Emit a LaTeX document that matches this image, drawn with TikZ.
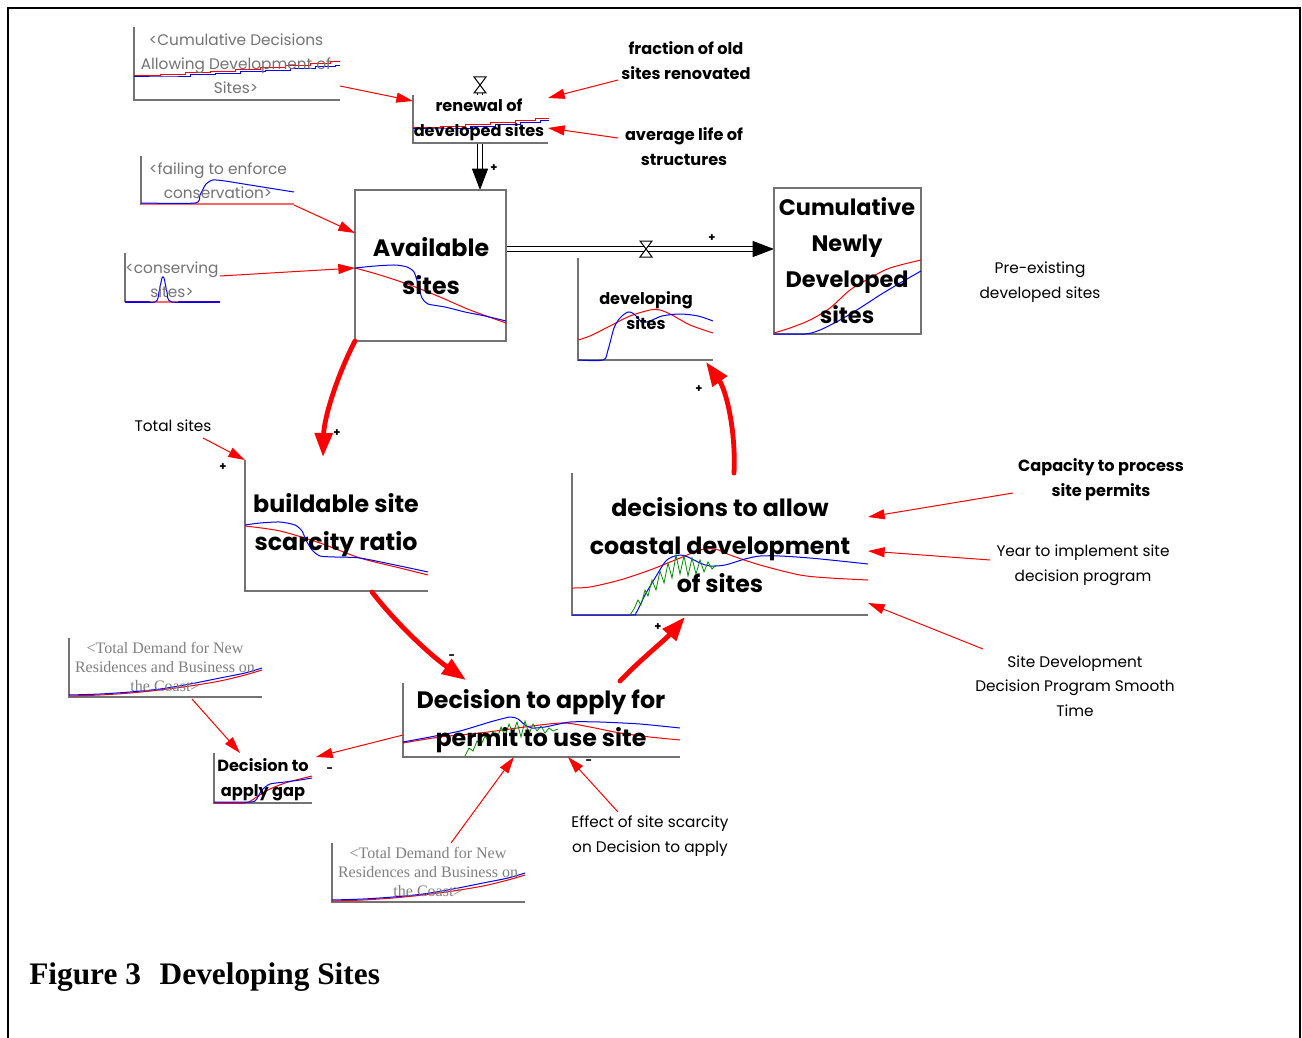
\documentclass[tikz,border=0pt]{standalone}
\usepackage{fontspec}
\setmainfont{Poppins}
\newfontfamily\serifcap{Liberation Serif}
\usetikzlibrary{arrows.meta}

\tikzset{
  axisline/.style={draw=black!55, line width=0.9pt},
  stockbox/.style={draw=black!55, line width=1pt},
  link/.style={draw=red, line width=0.75pt, -{Triangle[length=12.5pt,width=7.5pt]}},
  loop/.style={draw=red, line width=3.6pt, -{Triangle[length=18pt,width=13pt]}},
  pipe/.style={draw=black, line width=0.75pt, double=white, double distance=3pt, -{Triangle[length=16pt,width=12pt]}},
  redc/.style={red, line width=0.75pt},
  bluc/.style={blue, line width=0.75pt},
  grnc/.style={green!55!black, line width=0.6pt},
  bigvar/.style={font=\fontsize{17.8}{28.5}\selectfont\bfseries, align=center, inner sep=0pt},
  midvar/.style={font=\fontsize{12.1}{18.75}\selectfont\bfseries, align=center, inner sep=0pt},
  plainvar/.style={font=\fontsize{11.5}{18.5}\selectfont, align=center, inner sep=0pt},
  shadowvar/.style={font=\fontsize{11.5}{18}\selectfont, text=black!55, align=center, inner sep=0pt},
  shadowtimes/.style={font=\serifcap\fontsize{12}{14.25}\selectfont, text=black!50, align=center, inner sep=0pt},
  polarity/.style={font=\fontsize{8.5}{8.5}\selectfont\bfseries, inner sep=0pt},
  valve/.pic={\draw[line width=0.75pt, fill=white] (-4.5pt,-6pt) -- (4.5pt,-6pt) -- (-4.5pt,6pt) -- (4.5pt,6pt) -- cycle;}
}

\begin{document}
\begin{tikzpicture}[x=0.75pt,y=-0.75pt]
\useasboundingbox (0,0) rectangle (1302,1038);
\fill[white] (0,0) rectangle (1302,1038);

% page frame
\draw[line width=1.5pt] (8,1038) -- (8,8) -- (1300,8) -- (1300,1038);

% ---------- flows ----------
\coordinate (renewTop) at (480,93);
\coordinate (availTop) at (480,190);
\draw[pipe] (renewTop) -- (availTop);
\pic at (480,85) {valve};

\coordinate (availOut) at (506,249);
\coordinate (cumIn) at (774,249);
\draw[pipe] (availOut) -- (cumIn);
\pic at (646,249) {valve};

% ---------- <Cumulative Decisions Allowing Development of Sites> ----------
\draw[axisline] (134,27) -- (134,100) -- (340,100);
\draw[redc] plot[const plot] coordinates {(134,76) (160,75) (185,73) (210,72) (235,70) (260,68) (285,66) (310,64) (330,62) (340,62)};
\draw[bluc] plot[const plot] coordinates {(134,77) (165,77) (190,75) (215,74) (240,72) (265,71) (290,69) (315,67) (335,66) (340,66)};
\node[shadowvar] (cumdec) at (236,64) {<Cumulative Decisions\\Allowing Development of\\Sites>};
\coordinate (cumdecOut) at (340,86);

% ---------- renewal of developed sites ----------
\fill[white] (413,95) rectangle (548,143);
\draw[axisline] (413,95) -- (413,143) -- (548,143);
\draw[redc] plot[const plot] coordinates {(413,128) (440,127) (465,125) (490,123) (515,121) (535,119) (548,118)};
\draw[bluc] plot[const plot] coordinates {(413,129) (445,129) (470,127) (495,125) (520,123) (540,121) (548,120)};
\node[midvar] (renewal) at (479,120) {renewal of\\developed sites};
\coordinate (renewalIn1) at (413,101);
\coordinate (renewalIn2) at (548,98);
\coordinate (renewalIn3) at (548,128);

\node[midvar] (fraction) at (686,61) {fraction of old\\sites renovated};
\node[midvar] (avglife) at (684,147) {average life of\\structures};
\coordinate (fractionOut) at (618,80);
\coordinate (avglifeOut) at (618,138);

% ---------- Available sites ----------
\draw[stockbox] (355,190) rectangle (506,341);
\draw[redc] plot[smooth] coordinates {(355,268) (380,275) (410,285) (440,297) (470,310) (506,323)};
\draw[bluc] plot[smooth, tension=0.4] coordinates {(355,268) (375,266) (395,265) (407,267) (414,272) (418,284) (422,298) (428,304) (445,307) (465,312) (485,316) (506,321)};
\node[bigvar] (avail) at (431,266) {Available\\sites};
\coordinate (availIn1) at (355,233);
\coordinate (availIn2) at (355,268);
\coordinate (availCorner) at (355,341);

% ---------- <failing to enforce conservation> ----------
\draw[axisline] (141,156) -- (141,204) -- (294,204);
\draw[red!60, line width=1pt] (141,204) -- (294,204);
\draw[bluc] plot[smooth, tension=0.4] coordinates {(141,203) (195,203) (200,195) (206,184) (213,180) (225,181) (250,185) (275,189) (294,192)};
\node[shadowvar] (failing) at (218,181) {<failing to enforce\\conservation>};
\coordinate (failingOut) at (294,205);

% ---------- <conserving sites> ----------
\draw[axisline] (125,253) -- (125,302);
\draw[blue!70!red, line width=1pt] (125,302) -- (220,302);
\draw[red!60, line width=1pt] (150,302) -- (178,302);
\draw[bluc] plot[smooth, tension=0.4] coordinates {(125,302) (155,302) (159,292) (162,278) (164,278) (167,292) (172,302) (220,302)};
\node[shadowvar] (conserving) at (172,280) {<conserving\\sites>};
\coordinate (conservingOut) at (220,276);

% ---------- Cumulative Newly Developed sites ----------
\draw[stockbox] (774,188) rectangle (921,334);
\draw[redc] plot[smooth] coordinates {(774,333) (790,328) (810,320) (830,308) (850,290) (870,278) (890,268) (921,260)};
\draw[bluc] plot[smooth] coordinates {(774,334) (805,334) (820,330) (840,320) (860,308) (880,295) (900,283) (921,271)};
\node[font=\fontsize{16.8}{27}\selectfont\bfseries, align=center, inner sep=0pt] (cumnew) at (847,261) {Cumulative\\Newly\\Developed\\sites};

\node[plainvar] (preexist) at (1040,282) {Pre-existing\\developed sites};

% ---------- developing sites ----------
\draw[axisline] (578,258) -- (578,360) -- (713,360);
\draw[redc] plot[smooth] coordinates {(578,340) (590,336) (610,326) (630,316) (650,310) (660,310) (672,315) (690,325) (713,333)};
\draw[bluc] plot[smooth, tension=0.5] coordinates {(578,360) (603,360) (608,350) (614,328) (620,318) (628,312) (634,314) (642,322) (650,321) (662,316) (680,314) (698,316) (713,321)};
\node[midvar] (developing) at (646,311) {developing\\sites};
\coordinate (developingIn) at (706,362);

% ---------- Total sites ----------
\node[plainvar] (totalsites) at (173,426) {Total sites};
\coordinate (totalsitesOut) at (203,438);

% ---------- buildable site scarcity ratio ----------
\draw[axisline] (245,460) -- (245,591) -- (428,591);
\draw[redc] plot[smooth] coordinates {(245,526) (280,531) (320,543) (360,558) (400,568) (428,575)};
\draw[bluc] plot[smooth, tension=0.4] coordinates {(245,525) (260,523) (280,522) (295,525) (302,531) (306,540) (312,550) (320,556) (335,557) (360,558) (400,566) (428,572)};
\node[bigvar] (buildable) at (336,525) {buildable site\\scarcity ratio};
\coordinate (buildableIn) at (323,457);
\coordinate (buildableIn2) at (245,460);
\coordinate (buildableOut) at (372,592);

% ---------- decisions to allow coastal development of sites ----------
\draw[axisline] (572,473) -- (572,615) -- (868,615);
\draw[redc] plot[smooth] coordinates {(572,588) (590,587) (620,580) (650,570) (680,558) (700,550) (715,549) (730,555) (760,565) (800,575) (830,578) (868,580)};
\draw[bluc] plot[smooth, tension=0.5] coordinates {(572,615) (630,615) (636,613) (645,595) (655,578) (665,562) (672,557) (680,555) (688,557) (700,563) (710,566) (725,565) (745,559) (760,556) (780,556) (810,558) (840,561) (868,564)};
\draw[grnc] (630,615) -- (634,609) -- (638,600) -- (641,605) -- (645,590) -- (648,596) -- (652,580) -- (656,590) -- (660,571) -- (664,583) -- (668,563) -- (672,578) -- (676,555) -- (680,574) -- (684,556) -- (688,576) -- (692,558) -- (696,574) -- (700,560) -- (704,572) -- (708,562) -- (712,569) -- (716,565);
\node[bigvar] (decisions) at (720,545) {decisions to allow\\coastal development\\of sites};
\coordinate (decisionsOut) at (734,473);
\coordinate (decisionsIn1) at (868,517);
\coordinate (decisionsIn2) at (868,551);
\coordinate (decisionsIn3) at (868,603);
\coordinate (decisionsIn4) at (685,617);

\node[midvar] (capacity) at (1101,480) {Capacity to process\\site permits};
\node[plainvar] (yearimpl) at (1083,565) {Year to implement site\\decision program};
\node[plainvar] (smoothtime) at (1075,686) {Site Development\\Decision Program Smooth\\Time};
\coordinate (capacityOut) at (1013,493);
\coordinate (yearimplOut) at (990,560);
\coordinate (smoothtimeOut) at (983,649);

% ---------- Decision to apply for permit to use site ----------
\draw[axisline] (403,683) -- (403,757) -- (680,757);
\draw[redc] plot[smooth] coordinates {(403,743) (440,737) (480,733) (510,729) (540,725) (565,723) (590,727) (620,733) (650,737) (680,740)};
\draw[bluc] plot[smooth, tension=0.4] coordinates {(403,742) (430,737) (460,731) (490,722) (510,717) (518,719) (525,725) (532,728) (545,727) (570,722) (600,722) (640,724) (680,728)};
\draw[grnc] (465,756) -- (469,748) -- (473,751) -- (477,741) -- (481,745) -- (485,736) -- (489,742) -- (493,731) -- (497,739) -- (501,727) -- (505,736) -- (509,724) -- (513,733) -- (517,722) -- (521,737) -- (525,721) -- (529,734) -- (533,724) -- (537,731) -- (541,726) -- (545,733) -- (549,728) -- (553,731) -- (558,729);
\node[bigvar] (decapply) at (541,721) {Decision to apply for\\permit to use site};
\coordinate (decapplyIn) at (620,681);
\coordinate (decapplyIn2) at (466,680);
\coordinate (decapplyOut) at (403,735);
\coordinate (decapplyIn3) at (514,757);
\coordinate (decapplyIn4) at (568,757);

\node[plainvar] (effect) at (650,836) {Effect of site scarcity\\on Decision to apply};
\coordinate (effectOut) at (618,812);

% ---------- Decision to apply gap ----------
\draw[axisline] (214,753) -- (214,803) -- (312,803);
\draw[redc] plot[smooth] coordinates {(214,803) (245,803) (258,796) (270,789) (285,783) (300,779) (312,776)};
\draw[bluc] plot[smooth, tension=0.4] coordinates {(214,802) (250,802) (256,800) (262,790) (270,784) (285,782) (300,780) (312,778)};
\node[midvar] (gap) at (263,780) {Decision to\\apply gap};
\coordinate (gapIn1) at (316,757);
\coordinate (gapIn2) at (240,753);

% ---------- <Total Demand for New Residences and Business on the Coast> ----------
\foreach \dx/\dy/\nm in {0/0/demandA, 263/205/demandB}{
  \begin{scope}[shift={(\dx,\dy)}]
    \draw[axisline] (69,638) -- (69,697) -- (262,697);
    \draw[redc] plot[smooth] coordinates {(69,696) (100,695) (130,693) (160,690) (190,686) (220,681) (245,675) (262,670)};
    \draw[bluc] plot[smooth] coordinates {(69,695) (100,694) (130,692) (160,689) (190,684) (220,678) (245,673) (262,668)};
    \node[shadowtimes] (\nm) at (165,667) {<Total Demand for New\\Residences and Business on\\the Coast>};
  \end{scope}
}
\coordinate (demandAOut) at (192,699);
\coordinate (demandBOut) at (451,843);

% ---------- information links ----------
\draw[link] (cumdecOut) -- (renewalIn1);
\draw[link] (fractionOut) -- (renewalIn2);
\draw[link] (avglifeOut) -- (renewalIn3);
\draw[link] (failingOut) -- (availIn1);
\draw[link] (conservingOut) -- (availIn2);
\draw[link] (totalsitesOut) -- (buildableIn2);
\draw[link] (capacityOut) -- (decisionsIn1);
\draw[link] (yearimplOut) -- (decisionsIn2);
\draw[link] (smoothtimeOut) -- (decisionsIn3);
\draw[link] (decapplyOut) -- (gapIn1);
\draw[link] (demandAOut) -- (gapIn2);
\draw[link] (demandBOut) -- (decapplyIn3);
\draw[link] (effectOut) -- (decapplyIn4);

% ---------- main loop ----------
\draw[loop, line cap=round] (availCorner) .. controls (335,380) and (324,420) .. (buildableIn);
\draw[loop, line cap=round] (buildableOut) .. controls (395,622) and (430,655) .. (decapplyIn2);
\draw[loop, line cap=round] (decapplyIn) .. controls (640,660) and (665,640) .. (decisionsIn4);
\draw[loop, line cap=round] (decisionsOut) .. controls (736,430) and (726,390) .. (developingIn);

% ---------- polarities ----------
\node[polarity] (p1) at (494,168) {+};
\node[polarity] (p2) at (712,238) {+};
\node[polarity] (p3) at (337,433) {+};
\node[polarity] (p4) at (223,467) {+};
\node[polarity] (p5) at (699,389) {+};
\node[polarity] (p6) at (452,657) {-};
\node[polarity] (p7) at (658,627) {+};
\node[polarity] (p8) at (330,770) {-};
\node[polarity] (p9) at (589,762) {-};

% ---------- caption ----------
\node[font=\serifcap\bfseries\fontsize{23.5}{27}\selectfont, anchor=base west, inner sep=0pt] (caption) at (29,984) {Figure 3\hspace{0.35em} Developing Sites};
\end{tikzpicture}
\end{document}
